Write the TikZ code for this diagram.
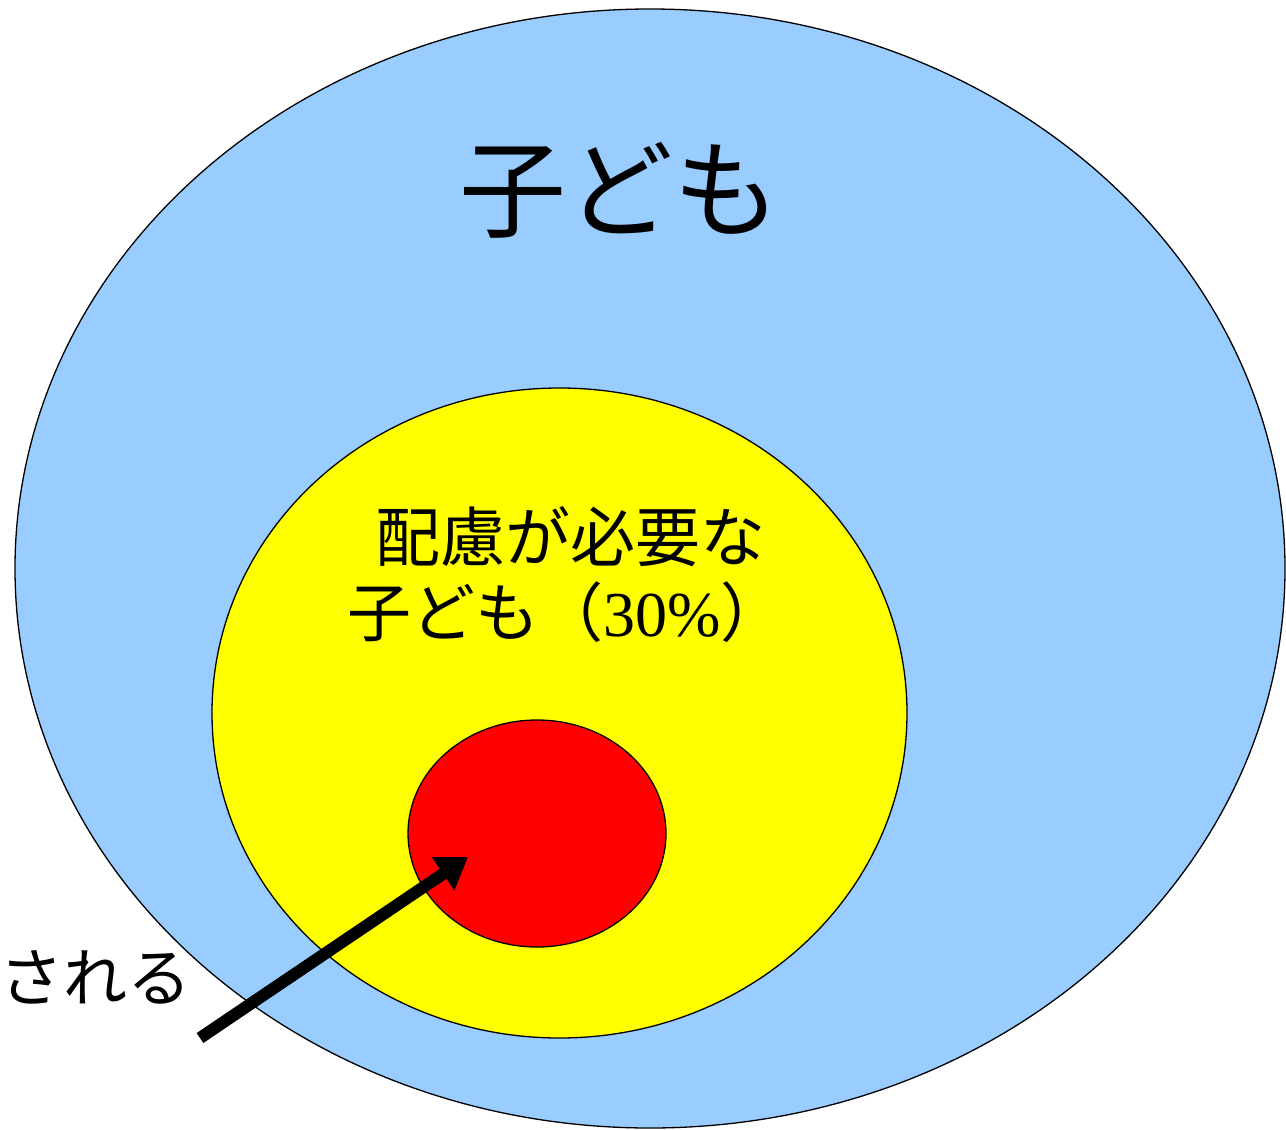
\documentclass[tikz,border=0pt]{standalone}
\usepackage{fontspec}
\setmainfont{Liberation Serif}
\newfontfamily\jp{Noto Sans CJK JP}
\newfontfamily\rom{Liberation Serif}
\usetikzlibrary{shapes.geometric,arrows.meta}
\definecolor{skyblue}{HTML}{99CCFF}
\definecolor{yel}{HTML}{FFFF00}
\definecolor{rd}{HTML}{FF0000}
\tikzset{
  region/.style={ellipse,draw=black,line width=1.3pt,inner sep=0pt},
  label/.style={inner sep=0pt,anchor=west,text=black},
  pointer/.style={line width=12pt,-{Triangle[length=30pt,width=38pt]}}
}
\begin{document}
\begin{tikzpicture}[x=1pt,y=-1pt]
\useasboundingbox (0,0) rectangle (1286,1130);
\node[region,fill=skyblue,minimum width=1270pt,minimum height=1119pt] (all) at (650,568.5) {};
\node[region,fill=yel,minimum width=695pt,minimum height=650pt] (need) at (559.5,713) {};
\node[region,fill=rd,minimum width=258pt,minimum height=227pt] (core) at (537,833.5) {};
\node[label,font=\jp\fontsize{107}{107}\selectfont] (t1) at (459,190) {子ども};
\node[label,font=\jp\fontsize{65}{65}\selectfont] (t2) at (375,537) {配慮が必要な};
\node[label,font=\jp\fontsize{64}{64}\selectfont] (t3) at (347,612) {子ども（{\rom 30\%}）};
\node[label,font=\jp\fontsize{64}{64}\selectfont] (t4) at (-1,977) {される};
\coordinate (start) at (200,1038);
\coordinate (tip) at (468,857);
\draw[pointer] (start) -- (tip);
\end{tikzpicture}
\end{document}
